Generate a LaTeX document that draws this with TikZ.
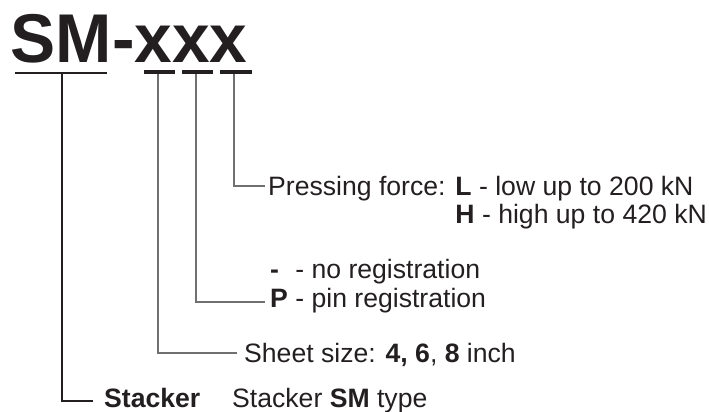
\documentclass[tikz,border=0pt]{standalone}
\usepackage{fontspec}
\setmainfont{Liberation Sans}
\definecolor{txt}{HTML}{231F20}
\definecolor{lead}{HTML}{707070}
\begin{document}
\begin{tikzpicture}[x=1pt,y=-1pt,
  lbl/.style={anchor=base west, inner sep=0pt, text=txt, font=\fontsize{26.6}{28}\selectfont},
  bar/.style={line width=4pt, txt},
  blackline/.style={line width=1.1pt, txt},
  greyline/.style={line width=1.3pt, lead}]
\useasboundingbox (0,0) rectangle (709,412);
% title
\node[anchor=base west, inner sep=0pt, text=txt, font=\fontsize{69}{69}\selectfont\bfseries] (title) at (10.5,63) {\scalebox{0.98}[1]{SM-xxx}};
% underlines
\coordinate (smL) at (15,73);
\coordinate (smR) at (107,73);
\coordinate (sm) at (62,73);
\draw[blackline] (smL) -- (smR);
\coordinate (b1L) at (144,72); \coordinate (b1R) at (175,72); \coordinate (b1) at (158,74);
\coordinate (b2L) at (182,72); \coordinate (b2R) at (213,72); \coordinate (b2) at (196,74);
\coordinate (b3L) at (220,72); \coordinate (b3R) at (252,72); \coordinate (b3) at (234,74);
\draw[bar] (b1L) -- (b1R);
\draw[bar] (b2L) -- (b2R);
\draw[bar] (b3L) -- (b3R);
% texts
\node[lbl] (press) at (268,195) {Pressing force: \textbf{L} - low up to 200 kN};
\node[lbl] (press2) at (268,223) {\phantom{Pressing force: }\textbf{H} - high up to 420 kN};
\node[lbl] (noreg) at (270,278) {\rlap{\textbf{-}}\phantom{\textbf{P}} - no registration};
\node[lbl] (pin) at (270,307) {\textbf{P} - pin registration};
\node[lbl] (sheet) at (244,362) {Sheet size: \textbf{4, 6}, \textbf{8} inch};
\node[lbl] (stk) at (104,407) {\textbf{Stacker}};
\node[lbl] (stkdesc) at (232,407) {Stacker \textbf{SM} type};
% leader ends
\coordinate (e3) at (265,186);
\coordinate (e2) at (265,302);
\coordinate (e1) at (237,353);
\coordinate (e0) at (93,401);
\draw[greyline] (b3) |- (e3);
\draw[greyline] (b2) |- (e2);
\draw[greyline] (b1) |- (e1);
\draw[blackline] (sm) |- (e0);
\end{tikzpicture}
\end{document}
